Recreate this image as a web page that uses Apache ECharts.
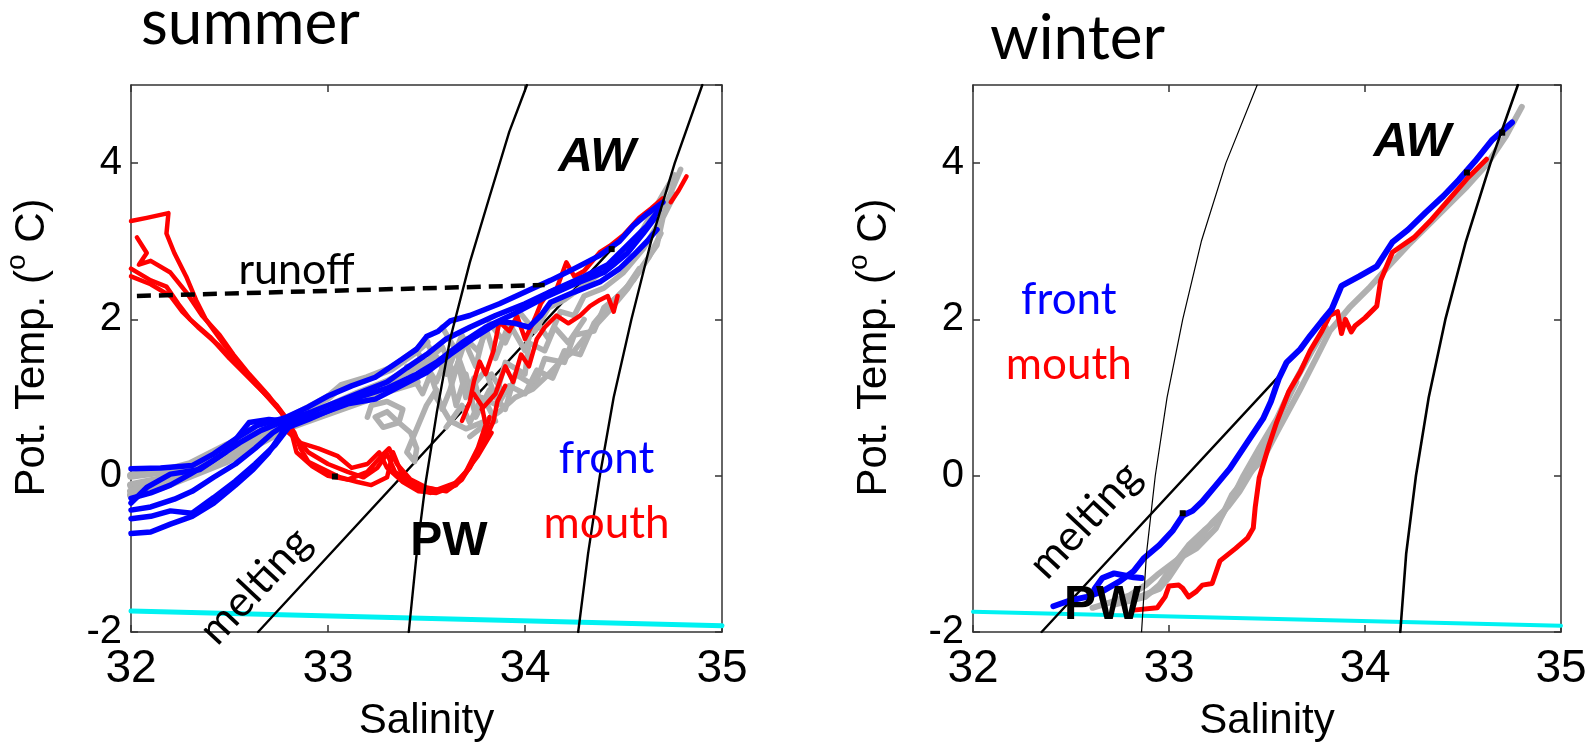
<!DOCTYPE html>
<html><head><meta charset="utf-8">
<script src="https://cdn.jsdelivr.net/npm/echarts@6/dist/echarts.min.js"></script>
<style>html,body{margin:0;padding:0;background:#fff}#c{width:1591px;height:747px}</style>
</head><body><div id="c"></div>
<script>
// ---------- axis ticks ----------
const salinityTicks = [32, 33, 34, 35];
const tempTicks = [-2, 0, 2, 4];
const tempMax = 5;

// ---------- summer: reference lines ----------
const sumFreezing = [[32.0, -1.73], [35.0, -1.92]];
const sumMelting = [[32.645, -2.0], [34.44, 2.9]];
const sumRunoff = [[32.03, 2.30], [34.1, 2.44]];
const sumIsoPW = [[33.41, -2], [33.45, -1], [33.495, -0.1], [33.553, 0.82], [33.62, 1.75], [33.72, 2.73], [33.82, 3.57], [33.92, 4.4], [34.01, 5]];
const sumIsoAW = [[34.27, -2], [34.32, -1], [34.38, 0], [34.45, 1], [34.54, 2], [34.64, 3], [34.76, 4], [34.9, 5]];
const sumMarkers = [[33.035, -0.01], [34.44, 2.9]];

// ---------- summer: gray profiles ----------
const sumGrayA = [[33.45,1.6],[33.55,1.2],[33.6,1.5],[33.65,0.9],[33.7,1.3],[33.75,0.75],[33.82,1.1],[33.9,0.85],[33.95,1.3],[34.05,1.15],[34.1,1.5],[34.2,1.45],[34.25,1.8],[34.35,1.85],[34.4,2.15],[34.5,2.35],[34.58,2.65]];
const sumGrayB = [[33.5,1.7],[33.6,1.3],[33.68,1.8],[33.75,1.4],[33.8,1.9],[33.85,1.5],[33.92,1.95],[34.0,1.6],[34.05,2.0],[34.12,1.75],[34.18,2.1],[34.25,2.05],[34.3,2.3],[34.4,2.4],[34.5,2.6],[34.6,2.9],[34.67,3.2],[34.72,3.5],[34.79,3.92]];
const sumGrayC = [[33.55,1.0],[33.62,0.7],[33.7,0.6],[33.8,0.7],[33.87,0.82],[33.95,1.0],[34.04,1.11],[34.12,1.3],[34.18,1.46],[34.25,1.6],[34.31,1.79],[34.42,2.09],[34.52,2.39],[34.6,2.7],[34.67,2.95],[34.7,3.3],[34.76,3.6]];
const sumGrayD = [[33.58,1.9],[33.65,1.6],[33.72,1.1],[33.8,1.35],[33.85,1.0],[33.9,1.45],[34.0,1.3],[34.02,1.7],[34.1,1.6],[34.15,1.9],[34.22,1.7],[34.3,2.0]];
const sumGrayE = [[32.0,-0.25],[32.15,-0.15],[32.3,0.0],[32.48,0.18],[32.6,0.35],[32.75,0.55],[32.9,0.75],[33.07,0.9],[33.2,1.0],[33.32,1.1],[33.45,1.2]];
const sumGrayF = [[32.0,0.0],[32.15,0.05],[32.3,0.15],[32.48,0.38],[32.6,0.5],[32.7,0.6],[32.85,0.8],[33.0,1.0],[33.07,1.15],[33.2,1.25],[33.32,1.37],[33.44,1.58],[33.5,1.71]];
const sumGrayG = [[32.0,-0.12],[32.2,-0.02],[32.4,0.2],[32.55,0.4],[32.7,0.55],[32.85,0.7],[33.0,0.88],[33.15,1.05],[33.3,1.2],[33.45,1.4],[33.55,1.5]];
const sumGrayH = [[33.2,0.75],[33.22,0.9],[33.3,0.95],[33.38,0.85],[33.36,0.68],[33.28,0.62],[33.24,0.75],[33.3,0.82],[33.35,0.7],[33.42,0.55],[33.45,0.35],[33.44,0.18],[33.4,0.3],[33.45,0.6],[33.5,0.9],[33.55,1.1]];
const sumGrayI = [[33.72,0.5],[33.78,0.62],[33.85,0.7],[33.8,0.95],[33.88,1.1],[33.83,1.3]];
const sumGrayJ = [[33.5,1.45],[33.58,1.65],[33.64,1.3],[33.7,1.75],[33.76,1.6],[33.82,1.95],[33.9,1.7],[33.97,2.1],[34.05,1.85],[34.12,2.15],[34.2,2.25],[34.28,2.4],[34.36,2.55],[34.45,2.7],[34.55,2.95],[34.62,3.25],[34.7,3.6],[34.76,3.85]];
const sumGrayK = [[33.6,0.62],[33.68,0.9],[33.72,0.68],[33.78,1.0],[33.86,0.9],[33.92,1.15],[34.0,1.05],[34.06,1.35],[34.14,1.25],[34.2,1.6],[34.28,1.55],[34.35,1.95],[34.45,2.25],[34.55,2.5],[34.63,2.8],[34.69,3.1]];
const sumGrayL = [[33.4,1.4],[33.48,1.05],[33.52,1.3],[33.58,0.85],[33.62,1.1],[33.66,1.45],[33.7,1.0],[33.74,1.25],[33.78,0.85]];
const sumGrayM = [[32.0,-0.2],[32.2,-0.08],[32.4,0.12],[32.6,0.4],[32.8,0.62],[33.0,0.8],[33.2,0.98],[33.4,1.2]];

// ---------- summer: red (mouth) profiles ----------
const sumRed1 = [[32.0,3.26],[32.08,3.3],[32.19,3.36],[32.18,3.1],[32.22,2.85],[32.28,2.55],[32.33,2.25],[32.38,2.0],[32.46,1.72],[32.56,1.4],[32.66,1.1],[32.76,0.82],[32.83,0.55],[32.86,0.35],[32.9,0.18],[32.98,0.08],[33.06,-0.02],[33.15,-0.08],[33.22,-0.12],[33.3,-0.02],[33.33,0.3],[33.37,0.05],[33.44,-0.15],[33.52,-0.22],[33.62,-0.16],[33.7,0.05],[33.76,0.35],[33.8,0.65],[33.78,0.9],[33.74,1.05]];
const sumRed2 = [[32.0,2.55],[32.1,2.45],[32.2,2.3],[32.26,2.1],[32.34,1.9],[32.44,1.68],[32.54,1.42],[32.64,1.15],[32.74,0.9],[32.8,0.7],[32.82,0.5],[32.84,0.3],[32.92,0.12],[33.0,0.0],[33.1,-0.05],[33.2,0.05],[33.27,0.25],[33.31,0.35],[33.35,0.15],[33.42,-0.05],[33.5,-0.15],[33.6,-0.2],[33.68,-0.05],[33.74,0.2],[33.8,0.47],[33.84,0.7],[33.86,0.95],[33.9,1.15]];
const sumRed3 = [[32.03,3.05],[32.08,2.85],[32.04,2.7],[32.1,2.75],[32.2,2.6],[32.28,2.35],[32.36,2.05],[32.45,1.8],[32.52,1.55],[32.6,1.3],[32.7,1.02],[32.78,0.75],[32.8,0.55],[32.86,0.42],[32.95,0.35],[33.05,0.25],[33.12,0.1],[33.2,0.15],[33.26,0.3],[33.3,0.1],[33.38,-0.08],[33.46,-0.2],[33.55,-0.22],[33.65,-0.12],[33.72,0.1],[33.78,0.4],[33.82,0.75]];
const sumRed4 = [[33.68,0.7],[33.72,0.95],[33.74,1.2],[33.77,1.46],[33.8,1.3],[33.84,1.6],[33.87,1.97],[33.92,1.85],[33.96,2.04],[34.0,1.75],[34.04,1.95],[34.08,2.2],[34.12,2.35],[34.16,2.39],[34.21,2.73],[34.25,2.55],[34.3,2.62],[34.38,2.86],[34.43,2.94],[34.5,3.08],[34.58,3.3],[34.64,3.42],[34.7,3.55]];
const sumRed5 = [[33.78,0.85],[33.85,1.05],[33.9,1.4],[33.94,1.2],[33.98,1.55],[34.02,1.4],[34.06,1.75],[34.1,1.9],[34.16,2.05],[34.22,1.95],[34.28,2.05],[34.33,2.17],[34.38,2.25],[34.42,2.3],[34.45,2.1],[34.47,2.3]];
const sumRed6 = [[34.74,3.5],[34.78,3.65],[34.82,3.83]];
const sumRed7 = [[32.0,2.65],[32.1,2.5],[32.18,2.42],[32.24,2.2],[32.3,2.0],[32.4,1.78],[32.5,1.5],[32.6,1.25],[32.72,0.95],[32.79,0.72],[32.84,0.48],[32.9,0.3],[33.0,0.15],[33.1,0.05],[33.18,-0.02],[33.25,0.1],[33.3,0.28],[33.34,0.05],[33.43,-0.12],[33.55,-0.18],[33.66,-0.08],[33.76,0.25],[33.83,0.55]];

// ---------- summer: blue (front) profiles ----------
const sumBlue1 = [[32.0,0.09],[32.15,0.1],[32.31,0.13],[32.42,0.28],[32.53,0.47],[32.64,0.64],[32.78,0.74],[32.9,0.88],[33.0,1.02],[33.12,1.15],[33.24,1.26],[33.37,1.48],[33.45,1.62],[33.5,1.78],[33.56,1.85],[33.62,1.98],[33.72,2.05],[33.87,2.2],[34.0,2.35],[34.13,2.5],[34.25,2.65],[34.38,2.82],[34.48,3.0],[34.55,3.2],[34.62,3.35],[34.7,3.5]];
const sumBlue2 = [[32.0,-0.29],[32.1,-0.22],[32.2,-0.12],[32.3,0.02],[32.42,0.2],[32.55,0.42],[32.66,0.58],[32.78,0.7],[32.92,0.82],[33.05,0.95],[33.18,1.08],[33.3,1.2],[33.4,1.38],[33.5,1.55],[33.6,1.75],[33.72,1.9],[33.85,2.05],[34.0,2.2],[34.15,2.38],[34.3,2.55],[34.42,2.7],[34.52,2.95],[34.62,3.2],[34.68,3.4]];
const sumBlue3 = [[32.0,-0.44],[32.1,-0.4],[32.22,-0.3],[32.31,-0.2],[32.42,-0.02],[32.53,0.15],[32.63,0.35],[32.72,0.55],[32.8,0.68],[32.95,0.78],[33.1,0.92],[33.24,0.98],[33.37,1.15],[33.5,1.32],[33.62,1.55],[33.75,1.78],[33.87,1.97],[33.95,1.95],[34.02,1.9],[34.08,2.05],[34.13,2.22],[34.25,2.35],[34.38,2.48],[34.48,2.65],[34.55,2.82],[34.62,3.0],[34.67,3.15]];
const sumBlue4 = [[32.0,-0.55],[32.1,-0.52],[32.2,-0.45],[32.31,-0.48],[32.42,-0.28],[32.53,-0.07],[32.63,0.15],[32.73,0.39],[32.8,0.62],[32.9,0.72],[33.02,0.85],[33.15,1.0],[33.3,1.12],[33.45,1.3],[33.55,1.45],[33.68,1.7],[33.8,1.9],[33.95,2.08],[34.1,2.28],[34.25,2.45],[34.4,2.6],[34.52,2.85],[34.6,3.1],[34.66,3.3]];
const sumBlue5 = [[32.0,-0.74],[32.1,-0.72],[32.2,-0.62],[32.31,-0.52],[32.42,-0.35],[32.53,-0.12],[32.62,0.08],[32.7,0.3],[32.76,0.52],[32.8,0.7],[32.88,0.78]];
const sumBlue6 = [[32.0,-0.35],[32.08,-0.15],[32.2,0.02],[32.35,0.08],[32.48,0.3],[32.6,0.68],[32.7,0.72],[32.78,0.7]];

// ---------- winter: reference lines ----------
const winFreezing = [[32.0, -1.74], [35.0, -1.92]];
const winMelting = [[32.35, -2.0], [33.57, 1.3]];
const winIsoPW = [[32.86,-2],[32.885,-1],[32.93,0],[32.99,1],[33.07,2],[33.165,3],[33.29,4],[33.45,5]];
const winIsoAW = [[34.18,-2],[34.21,-1],[34.26,0],[34.325,1],[34.41,2],[34.515,3],[34.64,4],[34.78,5]];
const winMarkers = [[33.07, -0.48], [34.52, 3.88], [34.70, 4.39]];

// ---------- winter: profiles ----------
const winBlue1 = [[32.41,-1.67],[32.49,-1.6],[32.58,-1.55],[32.66,-1.48],[32.75,-1.35],[32.82,-1.22],[32.87,-1.06],[32.95,-0.89],[33.02,-0.7],[33.07,-0.51],[33.12,-0.45],[33.17,-0.33],[33.24,-0.12],[33.31,0.09],[33.4,0.43],[33.48,0.73],[33.52,0.95],[33.56,1.24],[33.6,1.45],[33.67,1.62],[33.72,1.79],[33.78,1.98],[33.83,2.13],[33.88,2.43],[33.97,2.55],[34.06,2.68],[34.14,2.99],[34.22,3.15],[34.31,3.37],[34.4,3.58],[34.48,3.79],[34.56,4.02],[34.65,4.3],[34.75,4.52]];
const winBlue2 = [[32.62,-1.45],[32.66,-1.31],[32.72,-1.25],[32.76,-1.27],[32.82,-1.3],[32.86,-1.31]];
const winRed = [[32.82,-1.72],[32.94,-1.69],[32.98,-1.55],[33.0,-1.41],[33.05,-1.4],[33.07,-1.44],[33.1,-1.55],[33.14,-1.48],[33.17,-1.4],[33.22,-1.38],[33.26,-1.09],[33.34,-0.93],[33.4,-0.8],[33.43,-0.67],[33.44,-0.4],[33.46,-0.03],[33.51,0.39],[33.55,0.69],[33.61,1.07],[33.67,1.33],[33.72,1.6],[33.78,1.85],[33.82,2.05],[33.86,2.1],[33.88,1.82],[33.9,2.0],[33.93,1.84],[33.95,1.92],[34.0,2.02],[34.06,2.17],[34.08,2.5],[34.1,2.62],[34.14,2.86],[34.25,3.05],[34.34,3.28],[34.43,3.54],[34.52,3.8],[34.62,4.05]];
const winGray1 = [[32.61,-1.69],[32.7,-1.62],[32.8,-1.53],[32.88,-1.4],[32.94,-1.27],[33.05,-1.06],[33.14,-0.93],[33.24,-0.67],[33.32,-0.25],[33.4,0.0],[33.48,0.22],[33.56,0.6],[33.67,1.11],[33.75,1.5],[33.82,1.85],[33.92,2.15],[34.02,2.4],[34.12,2.68],[34.22,2.95],[34.32,3.2],[34.42,3.45],[34.52,3.7],[34.62,3.98],[34.72,4.35],[34.8,4.72]];
const winGray2 = [[32.72,-1.65],[32.8,-1.6],[32.88,-1.55],[32.95,-1.4],[33.02,-1.15],[33.1,-0.89],[33.18,-0.7],[33.27,-0.51],[33.33,-0.25],[33.38,0.0],[33.46,0.35],[33.55,0.73],[33.62,1.1],[33.67,1.33],[33.73,1.6],[33.8,1.9]];
const winGray3 = [[32.85,-1.55],[32.95,-1.45],[33.0,-1.3],[33.08,-1.0],[33.15,-0.82],[33.22,-0.6],[33.3,-0.4],[33.36,-0.2],[33.42,0.05],[33.5,0.4],[33.58,0.85],[33.65,1.2]];

// ---------- annotations (data coordinates) ----------
const sumNotes = [
  {name: 'AW', value: [34.365, 4.07]},
  {name: 'PW', value: [33.614, -0.84]},
  {name: 'runoff', value: [32.84, 2.63]},
  {name: 'melting', value: [32.63, -1.41]},
  {name: 'front', value: [34.414, 0.21]},
  {name: 'mouth', value: [34.414, -0.62]}
];
const winNotes = [
  {name: 'AW', value: [34.241, 4.26]},
  {name: 'PW', value: [32.662, -1.67]},
  {name: 'melting', value: [32.571, -0.57]},
  {name: 'front', value: [32.489, 2.25]},
  {name: 'mouth', value: [32.489, 1.42]}
];
const panelTitles = ['summer', 'winter'];

// ================= build the chart =================
const SANS = "'Liberation Sans', Arial, sans-serif";
const CAL = "Lato, 'Open Sans', sans-serif";
const AXC = '#333';
const BLUE = '#0000ff', RED = '#ff0000', GRAY = '#b0b0b0', CYAN = '#00f2f2';

const noteStyle = {
  AW: {fontFamily: SANS, fontWeight: 'bold', fontStyle: 'italic', fontSize: 48, color: '#000'},
  PW: {fontFamily: SANS, fontWeight: 'bold', fontSize: 48, color: '#000'},
  runoff: {fontFamily: CAL, fontSize: 43, color: '#000'},
  melting: {fontFamily: CAL, fontSize: 43, color: '#000', rotate: 47},
  front: {fontFamily: CAL, fontSize: 44, color: BLUE},
  mouth: {fontFamily: CAL, fontSize: 44, color: RED}
};

const grids = [
  {left: 131, top: 85, width: 591, height: 549},
  {left: 973, top: 85, width: 588, height: 549}
];

function xAxis(gi, pos) {
  const main = pos === 'bottom';
  return {
    type: 'value', gridIndex: gi, position: pos,
    min: salinityTicks[0], max: salinityTicks[salinityTicks.length - 1], interval: 1,
    axisLine: {show: true, onZero: false, lineStyle: {color: AXC, width: 1.5}},
    axisTick: {show: true, inside: true, length: 7, lineStyle: {color: AXC, width: 1.5}},
    axisLabel: {show: main, margin: 14, fontSize: 46, color: '#000', fontFamily: SANS},
    splitLine: {show: false},
    name: main ? 'Salinity' : '', nameLocation: 'middle', nameGap: 68,
    nameTextStyle: {fontSize: 42, color: '#000', fontFamily: SANS}
  };
}
function yAxis(gi, pos) {
  const main = pos === 'left';
  return {
    type: 'value', gridIndex: gi, position: pos,
    min: tempTicks[0], max: tempMax, interval: 2,
    axisLine: {show: true, onZero: false, lineStyle: {color: AXC, width: 1.5}},
    axisTick: {show: true, inside: true, length: 7, lineStyle: {color: AXC, width: 1.5}},
    axisLabel: {show: main, margin: 9, fontSize: 40, color: '#000', fontFamily: SANS,
      showMaxLabel: false,
      formatter: v => (tempTicks.indexOf(v) >= 0 ? String(v) : '')},
    splitLine: {show: false},
    name: main ? 'Pot. Temp. ({sup|o} C)' : '', nameLocation: 'middle', nameGap: 70, nameRotate: 90,
    nameTextStyle: {fontSize: 42, lineHeight: 58, color: '#000', fontFamily: SANS, padding: [0, 0, 0, 22],
      rich: {sup: {fontSize: 28, lineHeight: 28, verticalAlign: 'top', color: '#000', fontFamily: SANS}}}
  };
}

const series = [];
function line(panel, data, color, width, z, extra) {
  series.push(Object.assign({
    type: 'line', xAxisIndex: panel * 2, yAxisIndex: panel * 2, data: data,
    showSymbol: false, symbol: 'none', silent: true, z: z, animation: false,
    lineStyle: {color: color, width: width, opacity: 1, join: 'round', cap: 'round'}
  }, extra || {}));
}
function markers(panel, data) {
  series.push({type: 'scatter', xAxisIndex: panel * 2, yAxisIndex: panel * 2, data: data,
    symbol: 'rect', symbolSize: 6, itemStyle: {color: '#000', opacity: 1}, z: 20, silent: true, animation: false});
}
function notes(panel, list) {
  series.push({
    type: 'scatter', xAxisIndex: panel * 2, yAxisIndex: panel * 2, symbolSize: 0, z: 30,
    silent: true, animation: false, clip: false, itemStyle: {opacity: 1},
    data: list.map(n => ({name: n.name, value: n.value,
      label: Object.assign({show: true, position: 'inside', formatter: '{b}', align: 'center',
        verticalAlign: 'middle', opacity: 1, textBorderWidth: 0}, noteStyle[n.name])}))
  });
}

// summer panel (0)
line(0, sumFreezing, CYAN, 5, 2);
line(0, sumMelting, '#000', 2.4, 3);
[sumGrayE, sumGrayF, sumGrayG, sumGrayM].forEach(d => line(0, d, GRAY, 8, 4));
[sumGrayH, sumGrayI, sumGrayA, sumGrayB, sumGrayC, sumGrayD, sumGrayJ, sumGrayK, sumGrayL].forEach(d => line(0, d, GRAY, 5.5, 4));
[sumRed1, sumRed2, sumRed3, sumRed7, sumRed4, sumRed5, sumRed6].forEach(d => line(0, d, RED, 4.5, 5));
[sumBlue1, sumBlue2, sumBlue3, sumBlue4, sumBlue5, sumBlue6].forEach(d => line(0, d, BLUE, 5.5, 6));
line(0, sumIsoPW, '#000', 2.4, 8);
line(0, sumIsoAW, '#000', 2.4, 8);
line(0, sumRunoff, '#000', 4, 8, {lineStyle: {color: '#000', width: 4.5, type: [14, 8]}});
markers(0, sumMarkers);
notes(0, sumNotes);

// winter panel (1)
line(1, winFreezing, CYAN, 4, 2);
line(1, winMelting, '#000', 2.4, 3);
[winGray1, winGray2, winGray3].forEach(d => line(1, d, GRAY, 6, 4));
line(1, winRed, RED, 5, 5);
[winBlue1, winBlue2].forEach(d => line(1, d, BLUE, 6, 6));
line(1, winIsoPW, '#000', 1.2, 8);
line(1, winIsoAW, '#000', 2.6, 8);
markers(1, winMarkers);
notes(1, winNotes);

const chart = echarts.init(document.getElementById('c'), null, {renderer: 'canvas'});
chart.setOption({
  animation: false,
  backgroundColor: '#fff',
  grid: grids,
  xAxis: [xAxis(0, 'bottom'), xAxis(0, 'top'), xAxis(1, 'bottom'), xAxis(1, 'top')],
  yAxis: [yAxis(0, 'left'), yAxis(0, 'right'), yAxis(1, 'left'), yAxis(1, 'right')],
  graphic: [
    {type: 'text', x: 141, y: 24, style: {text: panelTitles[0], font: "62px " + CAL, fill: '#000', align: 'left', verticalAlign: 'middle'}},
    {type: 'text', x: 990, y: 39, style: {text: panelTitles[1], font: "62px " + CAL, fill: '#000', align: 'left', verticalAlign: 'middle'}}
  ],
  series: series
});
</script></body></html>
